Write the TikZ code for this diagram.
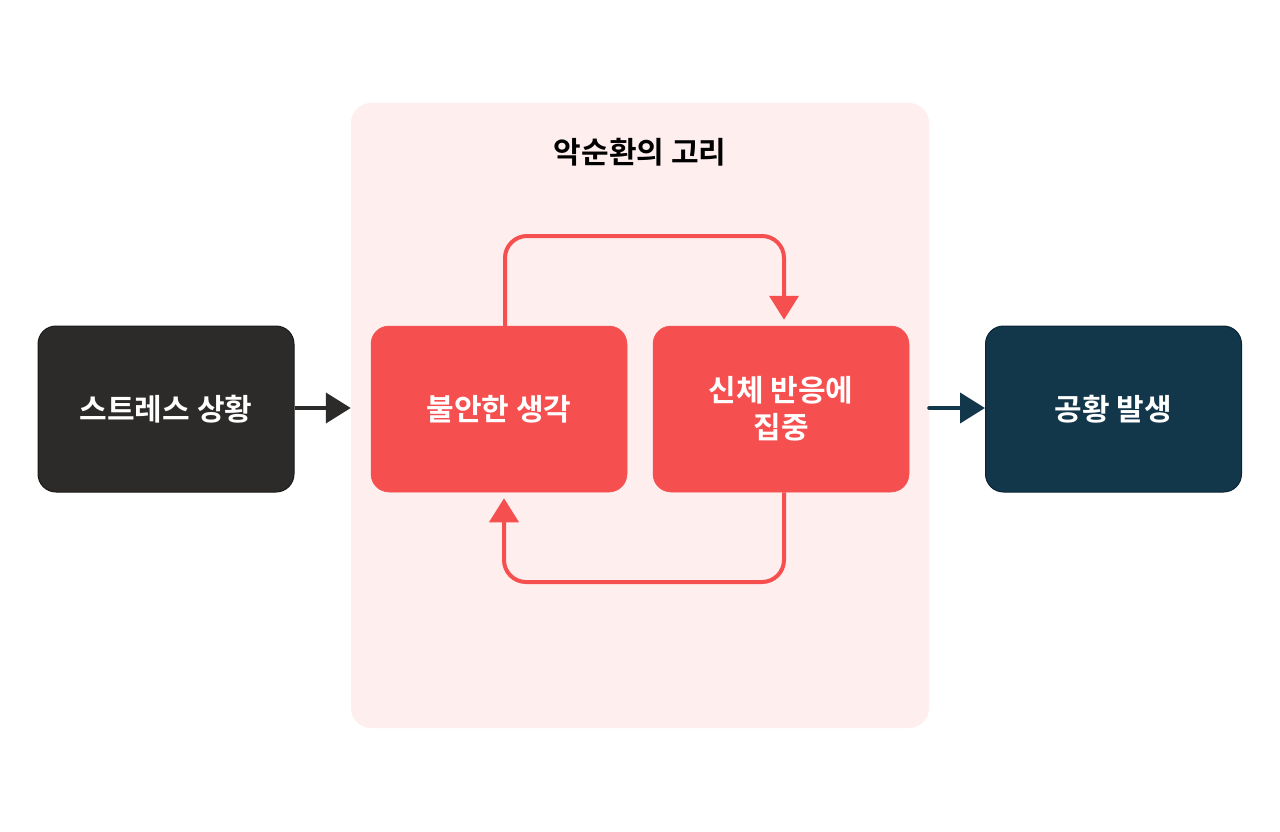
\documentclass[tikz,border=0pt]{standalone}
\usepackage{fontspec}
\setmainfont{Noto Sans CJK KR}[BoldFont={Noto Sans CJK KR Bold}]
\usetikzlibrary{arrows.meta,calc}
\definecolor{panelpink}{HTML}{FEEEEE}
\definecolor{loopred}{HTML}{F64F4F}
\definecolor{darkbox}{HTML}{2D2B2A}
\definecolor{darkedge}{HTML}{1A1918}
\definecolor{navybox}{HTML}{12364A}
\definecolor{navyedge}{HTML}{0A2535}
\tikzset{
  box/.style={rounded corners=18pt, minimum width=256pt, minimum height=166pt,
    inner sep=0pt, align=center, text=white, font=\bfseries\fontsize{30}{37}\selectfont},
  darkstyle/.style={box, fill=darkbox, draw=darkedge, line width=1pt},
  redstyle/.style={box, fill=loopred, draw=loopred, line width=0.5pt},
  navystyle/.style={box, fill=navybox, draw=navyedge, line width=1pt},
  looparrow/.style={draw=loopred, line width=4pt, rounded corners=22pt,
    -{Triangle[length=24pt,width=29pt]}},
  flowarrow/.style={line width=4pt, line cap=round, -{Triangle[length=25pt,width=30pt]}},
}
\begin{document}
\begin{tikzpicture}[x=1pt,y=-1pt]
\useasboundingbox[fill=white] (0,0) rectangle (1280,832);
\node[fill=panelpink, rounded corners=20pt, minimum width=578pt, minimum height=625pt,
  inner sep=0pt] (panel) at (640,415.5) {};
\node[font=\bfseries\fontsize{30}{36}\selectfont, text=black] (title) at (640,152) {악순환의 고리};
\node[darkstyle] (stress) at (166,409) {스트레스 상황};
\node[redstyle] (anx) at (499,409) {불안한 생각};
\node[redstyle] (body) at (781,409) {신체 반응에\\집중};
\node[navystyle] (panic) at (1113.5,409) {공황 발생};
% flow arrows
\draw[flowarrow, draw=darkbox, fill=darkbox, line cap=butt] (stress.east |- 0,408) -- (panel.west |- 0,408);
\draw[flowarrow, draw=navybox, fill=navybox] (panel.east |- 0,408) -- (panic.west |- 0,408);
% loop arrows
\coordinate (ta) at ($(anx.north)+(6,0)$);
\coordinate (tb) at ($(body.north)+(3,-6)$);
\draw[looparrow] (ta) |- (784,236) -- (tb);
\coordinate (ba) at ($(body.south)+(3,0)$);
\coordinate (bb) at ($(anx.south)+(5,6)$);
\draw[looparrow] (ba) |- (504,582) -- (bb);
\end{tikzpicture}
\end{document}
